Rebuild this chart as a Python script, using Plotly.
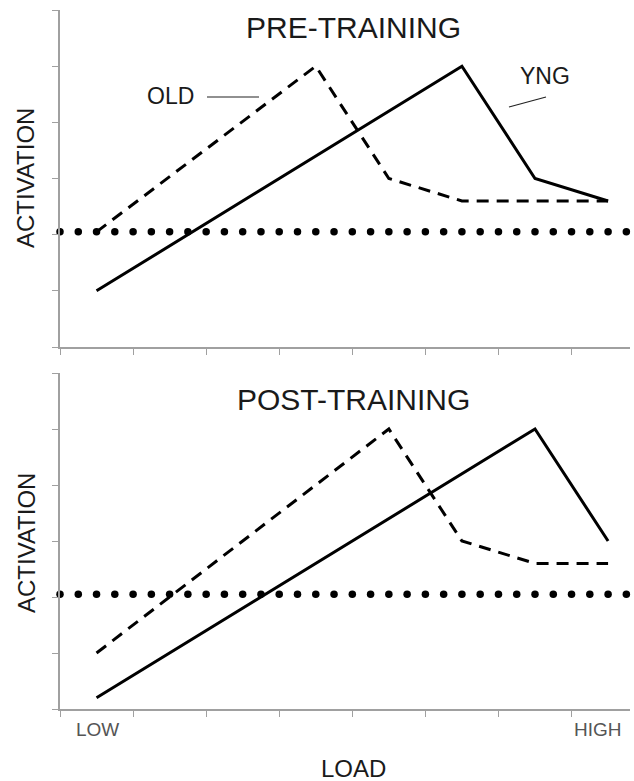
import numpy as np
import plotly.graph_objects as go

# ---- data ----
pre_yng_x = [0.5, 5.5, 6.5, 7.5]
pre_yng_y = [1.0, 5.0, 3.0, 2.6]
pre_old_x = [0.5, 3.5, 4.5, 5.5, 7.5]
pre_old_y = [2.05, 5.0, 3.0, 2.6, 2.6]
post_yng_x = [0.5, 6.5, 7.5]
post_yng_y = [0.2, 5.0, 3.0]
post_old_x = [0.5, 4.5, 5.5, 6.5, 7.5]
post_old_y = [1.0, 5.0, 3.0, 2.6, 2.6]
baseline = 2.05
panel_titles = ["PRE-TRAINING", "POST-TRAINING"]
x_ticks = [0, 1, 2, 3, 4, 5, 6, 7]
y_ticks = [0, 1, 2, 3, 4, 5, 6]

W, H = 634, 781
L, R, T, B = 60, 4, 10, 72
PW = W - L - R
PH = H - T - B


def px(x):
    return (x - L) / PW


def py(y):
    return (H - B - y) / PH


top_dom = [py(347), 1.0]
bot_dom = [0.0, py(373)]

fig = go.Figure()

dot_x = np.arange(0, 7.8, 0.25)

for yx, yy, ox, oy, xa, ya in [
    (pre_yng_x, pre_yng_y, pre_old_x, pre_old_y, "x", "y"),
    (post_yng_x, post_yng_y, post_old_x, post_old_y, "x2", "y2"),
]:
    fig.add_trace(go.Scatter(x=dot_x, y=[baseline] * len(dot_x), mode="markers",
                             marker=dict(size=7.5, color="black"), cliponaxis=False,
                             xaxis=xa, yaxis=ya, showlegend=False, hoverinfo="skip"))
    fig.add_trace(go.Scatter(x=ox, y=oy, mode="lines",
                             line=dict(color="black", width=3, dash="12px,8px"),
                             xaxis=xa, yaxis=ya, showlegend=False, name="OLD"))
    fig.add_trace(go.Scatter(x=yx, y=yy, mode="lines",
                             line=dict(color="black", width=3),
                             xaxis=xa, yaxis=ya, showlegend=False, name="YNG"))

axis_common = dict(showgrid=False, zeroline=False, showline=True, linecolor="#a0a0a0",
                   linewidth=1.5, ticks="outside", ticklen=6, tickcolor="#a0a0a0",
                   tickwidth=1.2, showticklabels=False)

fig.update_layout(
    width=W, height=H,
    margin=dict(l=L, r=R, t=T, b=B),
    paper_bgcolor="white", plot_bgcolor="white",
    font=dict(family="Liberation Sans, Arial, sans-serif", color="#1a1a1a"),
    xaxis=dict(domain=[0, 1], range=[0, 7.8], tickvals=x_ticks, anchor="y", **axis_common),
    yaxis=dict(domain=top_dom, range=[0, 6], tickvals=y_ticks, anchor="x", **axis_common),
    xaxis2=dict(domain=[0, 1], range=[0, 7.8], tickvals=x_ticks, anchor="y2", **axis_common),
    yaxis2=dict(domain=bot_dom, range=[0, 6], tickvals=y_ticks, anchor="x2", **axis_common),
)

ann = []


def add_text(text, x, y, size, color="#1a1a1a", angle=0):
    ann.append(dict(text=text, x=px(x), y=py(y), xref="paper", yref="paper",
                    showarrow=False, xanchor="center", yanchor="middle",
                    font=dict(size=size, color=color), textangle=angle))


add_text(panel_titles[0], 353, 28, 30)
add_text(panel_titles[1], 353, 399, 30)
add_text("ACTIVATION", 26, 178, 24, angle=-90)
add_text("ACTIVATION", 26, 543, 24, angle=-90)
add_text("OLD", 170, 96, 23)
add_text("YNG", 545, 76, 23)
add_text("LOW", 97, 729, 19, color="#555")
add_text("HIGH", 598, 729, 19, color="#555")
add_text("LOAD", 353, 768, 24)
fig.update_layout(annotations=ann)

fig.update_layout(shapes=[
    dict(type="line", xref="paper", yref="paper", x0=px(207), y0=py(97), x1=px(259), y1=py(97),
         line=dict(color="#222", width=1.2)),
    dict(type="line", xref="paper", yref="paper", x0=px(509), y0=py(107), x1=px(546), y1=py(97),
         line=dict(color="#222", width=1.2)),
])

fig.write_html("out.html",
               config={"displayModeBar": False},
               post_script="document.body.style.margin='0px';document.body.style.overflow='hidden';")
